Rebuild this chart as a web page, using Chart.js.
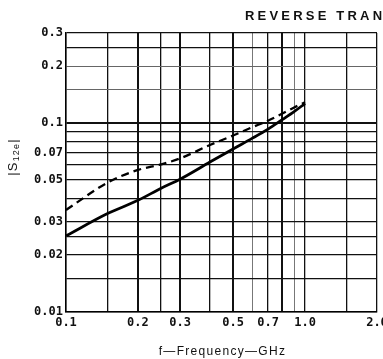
<!DOCTYPE html>
<html><head><meta charset="utf-8">
<script src="https://cdn.jsdelivr.net/npm/chart.js@4"></script>
<style>html,body{margin:0;padding:0;background:#fff;overflow:hidden}canvas{display:block}</style>
</head><body>
<canvas id="c" width="383" height="359"></canvas>
<script>
const frequencies = [0.1, 0.15, 0.2, 0.25, 0.3, 0.4, 0.5, 0.6, 0.7, 0.8, 0.9, 1.0];
const s12eSolid  = [0.0253, 0.0333, 0.039, 0.0452, 0.0505, 0.0622, 0.073, 0.083, 0.093, 0.104, 0.115, 0.127];
const s12eDashed = [0.0347, 0.0486, 0.0565, 0.0605, 0.065, 0.0766, 0.086, 0.095, 0.103, 0.112, 0.121, 0.129];
const xGridValues = [0.1, 0.15, 0.2, 0.25, 0.3, 0.4, 0.5, 0.6, 0.7, 0.8, 0.9, 1.0, 1.5, 2.0];
const yGridValues = [0.01, 0.015, 0.02, 0.025, 0.03, 0.04, 0.05, 0.06, 0.07, 0.08, 0.09, 0.1, 0.15, 0.2, 0.25, 0.3];
const xTickLabels = ['0.1', '0.2', '0.3', '0.5', '0.7', '1.0', '2.0'];
const yTickLabels = ['0.01', '0.02', '0.03', '0.05', '0.07', '0.1', '0.2', '0.3'];
const chartTitle = 'REVERSE TRAN';
const xAxisTitle = 'f\u2014Frequency\u2014GHz';
const yAxisTitleMain = 'S';
const yAxisTitleSub = '12e';

const near = (a, b) => Math.abs(a - b) < 1e-9;
const labelFor = (list, v) => list.find(s => near(parseFloat(s), v)) || '';

const xHeavy = [0.2, 0.3, 0.5, 0.8], xLight = [0.6, 0.9];
const yHeavy = [0.1], yLight = [0.15, 0.2];
const inList = (list, v) => list.some(x => near(x, v));

const annot = {
  id: 'annot',
  beforeDraw(chart) {
    const c = chart.ctx;
    c.save(); c.fillStyle = '#fff'; c.fillRect(0, 0, chart.width, chart.height); c.restore();
  },
  afterDraw(chart) {
    const c = chart.ctx;
    c.save();
    c.fillStyle = '#111';
    c.textBaseline = 'middle';
    c.textAlign = 'left';
    c.font = 'bold 13px "Liberation Sans", Arial, sans-serif';
    c.letterSpacing = '3.2px';
    c.fillText(chartTitle, 245, 16);
    // x axis title
    c.font = '12px "Liberation Sans", Arial, sans-serif';
    c.letterSpacing = '1.3px';
    c.textAlign = 'center';
    const xa = chart.scales.x;
    c.fillText(xAxisTitle, (xa.left + xa.right) / 2 + 1, 352);
    // y axis title |S12e|
    c.letterSpacing = '1.2px';
    c.textAlign = 'left';
    c.textBaseline = 'alphabetic';
    const big = '13px "Liberation Sans", Arial, sans-serif';
    const small = '9px "Liberation Sans", Arial, sans-serif';
    c.font = big; const wBar = c.measureText('|').width; const wS = c.measureText(yAxisTitleMain).width;
    c.font = small; const wSub = c.measureText(yAxisTitleSub).width;
    const total = wBar * 2 + wS + wSub;
    c.translate(16.5, 157);
    c.rotate(-Math.PI / 2);
    let x = -total / 2;
    c.font = big; c.fillText('|', x, 0); x += wBar;
    c.fillText(yAxisTitleMain, x, 0); x += wS;
    c.font = small; c.fillText(yAxisTitleSub, x, 2.5); x += wSub;
    c.font = big; c.fillText('|', x, 0);
    c.restore();
  }
};

const tickFont = { family: '"DejaVu Sans Mono", "Liberation Mono", monospace', size: 12, weight: 'bold' };

new Chart(document.getElementById('c'), {
  type: 'line',
  data: {
    datasets: [
      { data: frequencies.map((f, i) => ({ x: f, y: s12eSolid[i] })), borderColor: '#000', borderWidth: 2.8, pointRadius: 0, cubicInterpolationMode: 'monotone', fill: false },
      { data: frequencies.map((f, i) => ({ x: f, y: s12eDashed[i] })), borderColor: '#000', borderWidth: 2.3, borderDash: [8, 5], pointRadius: 0, cubicInterpolationMode: 'monotone', fill: false }
    ]
  },
  options: {
    responsive: false, animation: false, events: [],
    layout: { padding: { left: 0, right: 6, top: 33, bottom: 0 } },
    plugins: { legend: { display: false }, tooltip: { enabled: false }, title: { display: false } },
    scales: {
      x: {
        type: 'logarithmic', min: 0.1, max: 2.0,
        afterBuildTicks: s => { s.ticks = xGridValues.map(v => ({ value: v })); },
        afterFit: s => { s.height = 47; s.paddingLeft = 0; s.paddingRight = 0; },
        ticks: { autoSkip: false, maxRotation: 0, minRotation: 0, padding: 4, color: '#111', font: tickFont,
          callback: v => labelFor(xTickLabels, v) },
        grid: { drawTicks: false,
          color: ctx => inList(xLight, ctx.tick.value) ? '#777' : '#111',
          lineWidth: ctx => inList(xHeavy, ctx.tick.value) ? 2 : (inList(xLight, ctx.tick.value) ? 1 : 1.3) },
        border: { display: true, color: '#000', width: 1.5 }
      },
      y: {
        type: 'logarithmic', min: 0.01, max: 0.3,
        afterBuildTicks: s => { s.ticks = yGridValues.map(v => ({ value: v })); },
        afterFit: s => { s.width = 66; s.paddingTop = 0; s.paddingBottom = 0; },
        ticks: { autoSkip: false, padding: 3, color: '#111', font: tickFont,
          callback: v => labelFor(yTickLabels, v) },
        grid: { drawTicks: false,
          color: ctx => inList(yLight, ctx.tick.value) ? '#666' : '#111',
          lineWidth: ctx => inList(yHeavy, ctx.tick.value) ? 2 : (inList(yLight, ctx.tick.value) ? 1 : 1.3) },
        border: { display: true, color: '#000', width: 1.5 }
      }
    }
  },
  plugins: [annot]
});
</script>
</body></html>
